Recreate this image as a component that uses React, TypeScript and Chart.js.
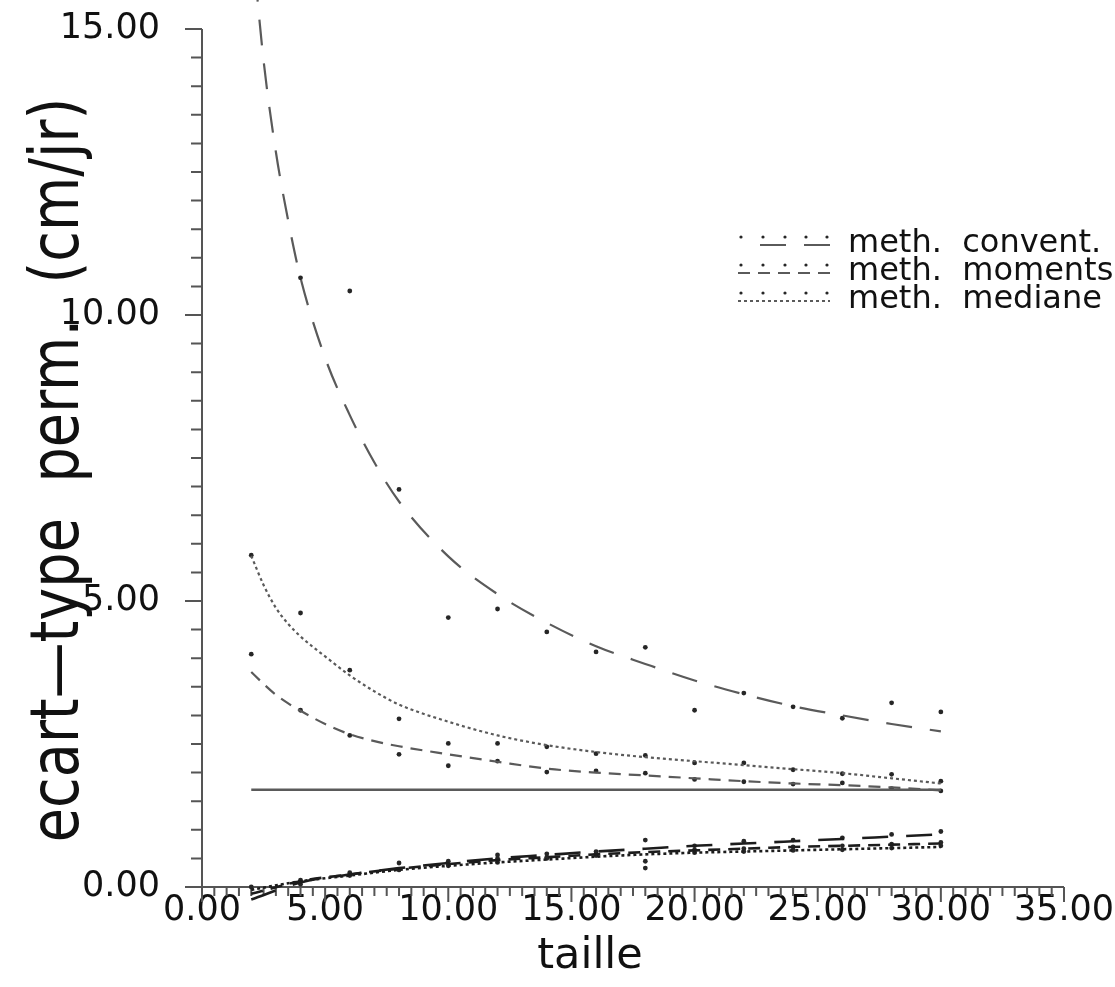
import React, { useEffect, useRef } from "react";
import { Chart, registerables } from "chart.js";

Chart.register(...registerables);

// Sample sizes ("taille") at which the estimators were evaluated
const sampleSizes = [2, 4, 6, 8, 10, 12, 14, 16, 18, 20, 22, 24, 26, 28, 30];

// Abscissae of the fitted curves (denser where the curves fall steeply)
const fitSizes = [2, 2.5, 3, 3.5, 4, 5, 6, 7, 8, 10, 12, 14, 16, 18, 20, 22, 24, 26, 28, 30];

// Fitted standard deviation curves, one per method
const conventFit = [16.7, 14.45, 12.85, 11.65, 10.65, 9.25, 8.25, 7.42, 6.74, 5.78, 5.12, 4.62, 4.21, 3.9, 3.61, 3.37, 3.16, 3.0, 2.85, 2.72];
const momentsFit = [3.76, 3.55, 3.36, 3.21, 3.08, 2.85, 2.67, 2.55, 2.46, 2.32, 2.19, 2.07, 2.0, 1.95, 1.9, 1.85, 1.81, 1.78, 1.74, 1.69];
const medianeFit = [5.79, 5.28, 4.88, 4.6, 4.38, 4.03, 3.7, 3.42, 3.19, 2.89, 2.65, 2.48, 2.36, 2.27, 2.2, 2.13, 2.06, 1.99, 1.9, 1.81];

// Observed standard deviations
const conventObs = [16.5, 10.65, 10.42, 6.95, 4.71, 4.86, 4.46, 4.11, 4.19, 3.09, 3.39, 3.15, 2.95, 3.22, 3.06];
const momentsObs = [4.07, 3.09, 2.65, 2.32, 2.12, 2.2, 2.01, 2.03, 1.99, 1.88, 1.84, 1.8, 1.82, 1.72, 1.68];
const medianeObs = [5.8, 4.79, 3.79, 2.94, 2.51, 2.51, 2.45, 2.33, 2.3, 2.17, 2.17, 2.05, 1.98, 1.97, 1.85];

// Lower family of curves (near zero), one per method
const conventLowFit = [-0.22, 0.08, 0.22, 0.33, 0.42, 0.5, 0.56, 0.62, 0.67, 0.72, 0.76, 0.8, 0.84, 0.88, 0.92];
const momentsLowFit = [-0.12, 0.1, 0.22, 0.32, 0.4, 0.47, 0.52, 0.57, 0.61, 0.64, 0.67, 0.7, 0.72, 0.74, 0.76];
const medianeLowFit = [-0.05, 0.1, 0.2, 0.3, 0.37, 0.43, 0.48, 0.53, 0.57, 0.6, 0.62, 0.64, 0.66, 0.68, 0.7];
const conventLowObs = [-0.2, 0.05, 0.22, 0.42, 0.45, 0.56, 0.58, 0.62, 0.82, 0.72, 0.8, 0.82, 0.86, 0.92, 0.97];
const momentsLowObs = [-0.15, 0.1, 0.2, 0.3, 0.4, 0.5, 0.52, 0.58, 0.45, 0.65, 0.67, 0.7, 0.72, 0.75, 0.78];
const medianeLowObs = [0.0, 0.12, 0.25, 0.3, 0.37, 0.43, 0.5, 0.55, 0.33, 0.6, 0.62, 0.64, 0.65, 0.68, 0.72];

// Horizontal reference level
const referenceSizes = [2, 30];
const referenceLevel = [1.7, 1.7];

// Axis ranges and labels
const xRange = [0, 35];
const yRange = [0, 15];
const majorStep = 5;
const minorStep = 0.5;
const xTitle = "taille";
const yTitle = "ecart\u2014type  perm.  (cm/jr)";
const methodLabels = ["meth.  convent.", "meth.  moments", "meth.  mediane"];

const DASH_CONVENT = [26, 18];
const DASH_MOMENTS = [12, 8];
const DASH_MEDIANE = [3, 3];
const methodDashes = [DASH_CONVENT, DASH_MOMENTS, DASH_MEDIANE];

const UPPER = "#5a5a5a";
const LOWER = "#1c1c1c";
const DOT = "#262626";
const AXIS = "#555555";
const TEXT = "#111111";
const FONT = "'DejaVu Sans', sans-serif";

const pairs = (xs: number[], ys: number[]) => xs.map((x, i) => ({ x, y: ys[i] }));

const fitLine = (data: { x: number; y: number }[], dash: number[], color: string, width: number) => ({
  type: "line" as const,
  data,
  borderColor: color,
  borderWidth: width,
  borderDash: dash,
  pointRadius: 0,
  fill: false,
  cubicInterpolationMode: "monotone" as const,
  clip: false as const,
});

const dots = (data: { x: number; y: number }[]) => ({
  type: "scatter" as const,
  data,
  pointRadius: 2.4,
  pointBackgroundColor: DOT,
  pointBorderWidth: 0,
  showLine: false,
  clip: 6,
});

// Axis lines with minor and major tick marks, like a plotter frame
const axisFrame = {
  id: "axisFrame",
  beforeDatasetsDraw(chart: any) {
    const { ctx } = chart;
    const x = chart.scales.x;
    const y = chart.scales.y;
    const x0 = x.getPixelForValue(xRange[0]);
    const x1 = x.getPixelForValue(xRange[1]);
    const y0 = y.getPixelForValue(yRange[0]);
    const y1 = y.getPixelForValue(yRange[1]);
    ctx.save();
    ctx.strokeStyle = AXIS;
    ctx.lineWidth = 2;
    ctx.beginPath();
    ctx.moveTo(x0, y1);
    ctx.lineTo(x0, y0);
    ctx.lineTo(x1, y0);
    ctx.stroke();
    ctx.beginPath();
    const nx = Math.round((xRange[1] - xRange[0]) / minorStep);
    for (let i = 0; i <= nx; i++) {
      const v = xRange[0] + i * minorStep;
      const px = x.getPixelForValue(v);
      const major = Math.abs(v / majorStep - Math.round(v / majorStep)) < 1e-6;
      ctx.moveTo(px, y0);
      ctx.lineTo(px, y0 + (major ? 15 : 9));
    }
    const ny = Math.round((yRange[1] - yRange[0]) / minorStep);
    for (let i = 0; i <= ny; i++) {
      const v = yRange[0] + i * minorStep;
      const py = y.getPixelForValue(v);
      const major = Math.abs(v / majorStep - Math.round(v / majorStep)) < 1e-6;
      ctx.moveTo(x0, py);
      ctx.lineTo(x0 - (major ? 17 : 11), py);
    }
    ctx.stroke();
    ctx.restore();
  },
};

// Axis titles
const axisTitles = {
  id: "axisTitles",
  afterDraw(chart: any) {
    const { ctx } = chart;
    ctx.save();
    ctx.fillStyle = TEXT;
    ctx.textAlign = "center";
    ctx.textBaseline = "middle";
    ctx.font = `43px ${FONT}`;
    ctx.fillText(xTitle, 590, 957);
    ctx.translate(60, 470);
    ctx.rotate(-Math.PI / 2);
    ctx.scale(0.82, 1);
    ctx.font = `68px ${FONT}`;
    ctx.fillText(yTitle, 0, 0);
    ctx.restore();
  },
};

// Legend box in the upper right of the plot
const methodLegend = {
  id: "methodLegend",
  afterDraw(chart: any) {
    const { ctx } = chart;
    const rows = [244, 272, 300];
    ctx.save();
    methodLabels.forEach((label, i) => {
      const ry = rows[i];
      ctx.fillStyle = DOT;
      [741, 763, 785, 806, 827].forEach((dx) => {
        ctx.beginPath();
        ctx.arc(dx, ry - 7, 1.6, 0, Math.PI * 2);
        ctx.fill();
      });
      ctx.strokeStyle = UPPER;
      ctx.lineWidth = 2;
      ctx.setLineDash(methodDashes[i]);
      ctx.beginPath();
      ctx.moveTo(i === 0 ? 760 : 738, ry + 1);
      ctx.lineTo(830, ry + 1);
      ctx.stroke();
      ctx.setLineDash([]);
      ctx.fillStyle = TEXT;
      ctx.font = `32px ${FONT}`;
      ctx.textAlign = "left";
      ctx.textBaseline = "middle";
      ctx.fillText(label, 848, ry);
    });
    ctx.restore();
  },
};

export default function App() {
  const canvasRef = useRef<HTMLCanvasElement | null>(null);

  useEffect(() => {
    if (!canvasRef.current) return;
    const chart = new Chart(canvasRef.current, {
      type: "line",
      data: {
        datasets: [
          fitLine(pairs(fitSizes, conventFit), DASH_CONVENT, UPPER, 2.2),
          fitLine(pairs(fitSizes, momentsFit), DASH_MOMENTS, UPPER, 2.2),
          fitLine(pairs(fitSizes, medianeFit), DASH_MEDIANE, UPPER, 2.2),
          fitLine(pairs(referenceSizes, referenceLevel), [], UPPER, 2.4),
          fitLine(pairs(sampleSizes, conventLowFit), DASH_CONVENT, LOWER, 2.6),
          fitLine(pairs(sampleSizes, momentsLowFit), DASH_MOMENTS, LOWER, 2.6),
          fitLine(pairs(sampleSizes, medianeLowFit), DASH_MEDIANE, LOWER, 2.6),
          dots(pairs(sampleSizes, conventObs)),
          dots(pairs(sampleSizes, momentsObs)),
          dots(pairs(sampleSizes, medianeObs)),
          dots(pairs(sampleSizes, conventLowObs)),
          dots(pairs(sampleSizes, momentsLowObs)),
          dots(pairs(sampleSizes, medianeLowObs)),
        ] as any,
      },
      options: {
        animation: false,
        responsive: false,
        devicePixelRatio: 1,
        layout: { padding: { left: 0, top: 29, right: 51, bottom: 0 } },
        plugins: { legend: { display: false }, tooltip: { enabled: false } },
        scales: {
          x: {
            type: "linear",
            min: xRange[0],
            max: xRange[1],
            grid: { display: false, drawTicks: false },
            border: { display: false },
            ticks: {
              stepSize: majorStep,
              autoSkip: false,
              maxRotation: 0,
              padding: 3,
              color: TEXT,
              font: { family: FONT, size: 35 },
              callback: (v: any) => Number(v).toFixed(2),
            },
            afterFit: (s: any) => {
              s.height = 100;
              s.paddingLeft = 0;
              s.paddingRight = 0;
            },
          },
          y: {
            type: "linear",
            min: yRange[0],
            max: yRange[1],
            grid: { display: false, drawTicks: false },
            border: { display: false },
            ticks: {
              stepSize: majorStep,
              autoSkip: false,
              padding: 42,
              color: TEXT,
              font: { family: FONT, size: 35 },
              callback: (v: any) => Number(v).toFixed(2),
            },
            afterFit: (s: any) => {
              s.width = 202;
              s.paddingTop = 0;
              s.paddingBottom = 0;
            },
          },
        },
      },
      plugins: [axisFrame, axisTitles, methodLegend],
    });
    return () => chart.destroy();
  }, []);

  return (
    <div style={{ position: "absolute", left: 0, top: 0, width: 1115, height: 987, background: "#ffffff" }}>
      <canvas ref={canvasRef} width={1115} height={987} />
    </div>
  );
}
